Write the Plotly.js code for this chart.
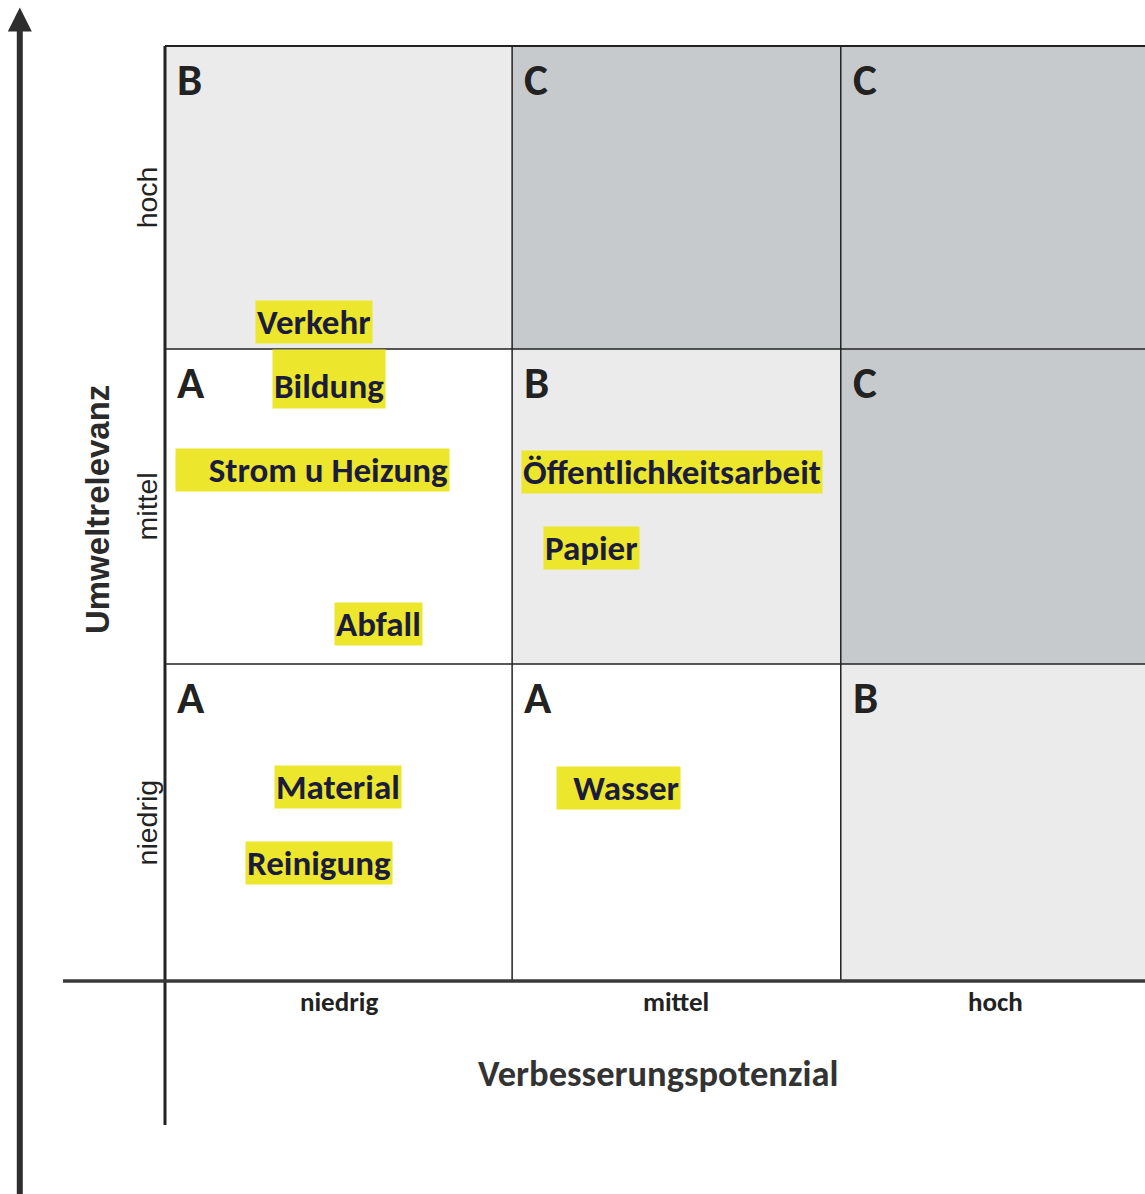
<!DOCTYPE html>
<html>
<head>
<meta charset="utf-8">
<script src="https://cdn.plot.ly/plotly-3.0.1.min.js"></script>
<style>html,body{margin:0;padding:0;background:#fff;}#chart{width:1145px;height:1194px;}</style>
</head>
<body>
<div id="chart"></div>
<script>
// ---- data ----
const xLevels = ["niedrig", "mittel", "hoch"];      // Verbesserungspotenzial
const yLevels = ["niedrig", "mittel", "hoch"];      // Umweltrelevanz
const colEdges = [0, 1.052, 2.048, 2.988];
const rowEdges = [0, 1.006, 2.006, 2.968];
// cell classes, rows from bottom (niedrig) to top (hoch)
const cellClass = [
  ["A", "A", "B"],
  ["A", "B", "C"],
  ["B", "C", "C"]
];
const itemNames = ["Verkehr", "Bildung", "Strom u Heizung", "Abfall", "Öffentlichkeitsarbeit", "Papier", "Material", "Reinigung", "Wasser"];
const itemX = [0.452, 0.497, 0.447, 0.648, 1.536, 1.294, 0.524, 0.467, 1.374];
const itemY = [2.092, 1.910, 1.622, 1.133, 1.616, 1.375, 0.616, 0.375, 0.613];
const xTitle = "Verbesserungspotenzial";
const yTitle = "Umweltrelevanz";

// ---- styles ----
const classFill = { A: "#ffffff", B: "#ebebeb", C: "#c7cacc" };
const itemFont = { family: "Carlito, Lato, sans-serif", size: 35, color: "#1b1b3c", weight: 700 };
const itemBox = "#ece62c";
const itemStyle = {
  "Bildung": { height: 56, valign: "bottom" },
  "Strom u Heizung": { width: 271, align: "right" },
  "Wasser": { width: 121, align: "right" }
};
const XR = [-0.5, 2.97], YR = [-0.676, 3.114];
const lineCol = "#222";

const shapes = [];
const annotations = [];

// cell backgrounds and class letters
for (let r = 0; r < 3; r++) {
  for (let c = 0; c < 3; c++) {
    shapes.push({ type: "rect", xref: "x", yref: "y", layer: "below",
      x0: colEdges[c], x1: colEdges[c + 1], y0: rowEdges[r], y1: rowEdges[r + 1],
      fillcolor: classFill[cellClass[r][c]], line: { width: 0 } });
    annotations.push({ xref: "x", yref: "y", x: colEdges[c] + 0.03, y: rowEdges[r + 1] - 0.012,
      xanchor: "left", yanchor: "top", showarrow: false, text: cellClass[r][c],
      font: { family: "Carlito, Lato, sans-serif", size: 45, color: "#222", weight: 700 } });
  }
}
// inner grid lines
for (let c = 1; c < 3; c++) {
  shapes.push({ type: "line", xref: "x", yref: "y", x0: colEdges[c], x1: colEdges[c], y0: rowEdges[0], y1: rowEdges[3], line: { color: lineCol, width: 1.5 } });
}
for (let r = 1; r < 3; r++) {
  shapes.push({ type: "line", xref: "x", yref: "y", x0: colEdges[0], x1: colEdges[3], y0: rowEdges[r], y1: rowEdges[r], line: { color: lineCol, width: 1.5 } });
}
// top border
shapes.push({ type: "line", xref: "x", yref: "y", x0: colEdges[0], x1: colEdges[3], y0: rowEdges[3], y1: rowEdges[3], line: { color: lineCol, width: 2 } });
// left vertical axis line (extends below)
shapes.push({ type: "line", xref: "x", yref: "y", x0: colEdges[0], x1: colEdges[0], y0: rowEdges[3], y1: -0.457, line: { color: lineCol, width: 3 } });
// bottom horizontal axis line (extends left)
shapes.push({ type: "line", xref: "x", yref: "y", x0: -0.309, x1: colEdges[3], y0: rowEdges[0], y1: rowEdges[0], line: { color: "#3a3a3a", width: 3.5 } });

// big vertical arrow on the far left
annotations.push({ xref: "x", yref: "y", x: -0.44, y: 3.09, axref: "x", ayref: "y", ax: -0.44, ay: YR[0] - 0.05,
  showarrow: true, arrowhead: 2, arrowsize: 0.8, arrowwidth: 6, arrowcolor: "#2e2e2e", text: "" });

// item labels
itemNames.forEach((n, i) => {
  const st = itemStyle[n] || {};
  const a = { xref: "x", yref: "y", x: itemX[i], y: itemY[i], showarrow: false, text: n,
    font: itemFont, bgcolor: itemBox, borderpad: 1, height: st.height || 40 };
  if (st.width) a.width = st.width;
  if (st.align) a.align = st.align;
  if (st.valign) a.valign = st.valign;
  annotations.push(a);
});

// column labels
xLevels.forEach((t, c) => {
  annotations.push({ xref: "x", yref: "y", x: (colEdges[c] + colEdges[c + 1]) / 2, y: rowEdges[0] - 0.006,
    yanchor: "top", showarrow: false, text: t,
    font: { family: "Carlito, Lato, sans-serif", size: 27, color: "#222", weight: 700 } });
});
// row labels
yLevels.forEach((t, r) => {
  annotations.push({ xref: "x", yref: "y", x: -0.055, y: (rowEdges[r] + rowEdges[r + 1]) / 2,
    showarrow: false, text: t, textangle: -90,
    font: { family: "Liberation Sans, Arial, sans-serif", size: 28.5, color: "#222" } });
});
// axis titles
annotations.push({ xref: "x", yref: "y", x: 1.493, y: -0.295, showarrow: false, text: xTitle,
  font: { family: "Carlito, Lato, sans-serif", size: 36.5, color: "#333", weight: 700 } });
annotations.push({ xref: "x", yref: "y", x: -0.206, y: 1.495, showarrow: false, text: yTitle, textangle: -90,
  font: { family: "Liberation Sans, Arial, sans-serif", size: 33, color: "#2a2a2a", weight: 700 } });

const layout = {
  width: 1145, height: 1194,
  margin: { l: 0, r: 0, t: 0, b: 0 },
  paper_bgcolor: "#ffffff", plot_bgcolor: "#ffffff",
  xaxis: { range: XR, visible: false, fixedrange: true },
  yaxis: { range: YR, visible: false, fixedrange: true },
  showlegend: false,
  shapes: shapes,
  annotations: annotations
};
Plotly.newPlot("chart", [{ x: [], y: [], type: "scatter", hoverinfo: "skip" }], layout, { displayModeBar: false, staticPlot: true });
</script>
</body>
</html>
